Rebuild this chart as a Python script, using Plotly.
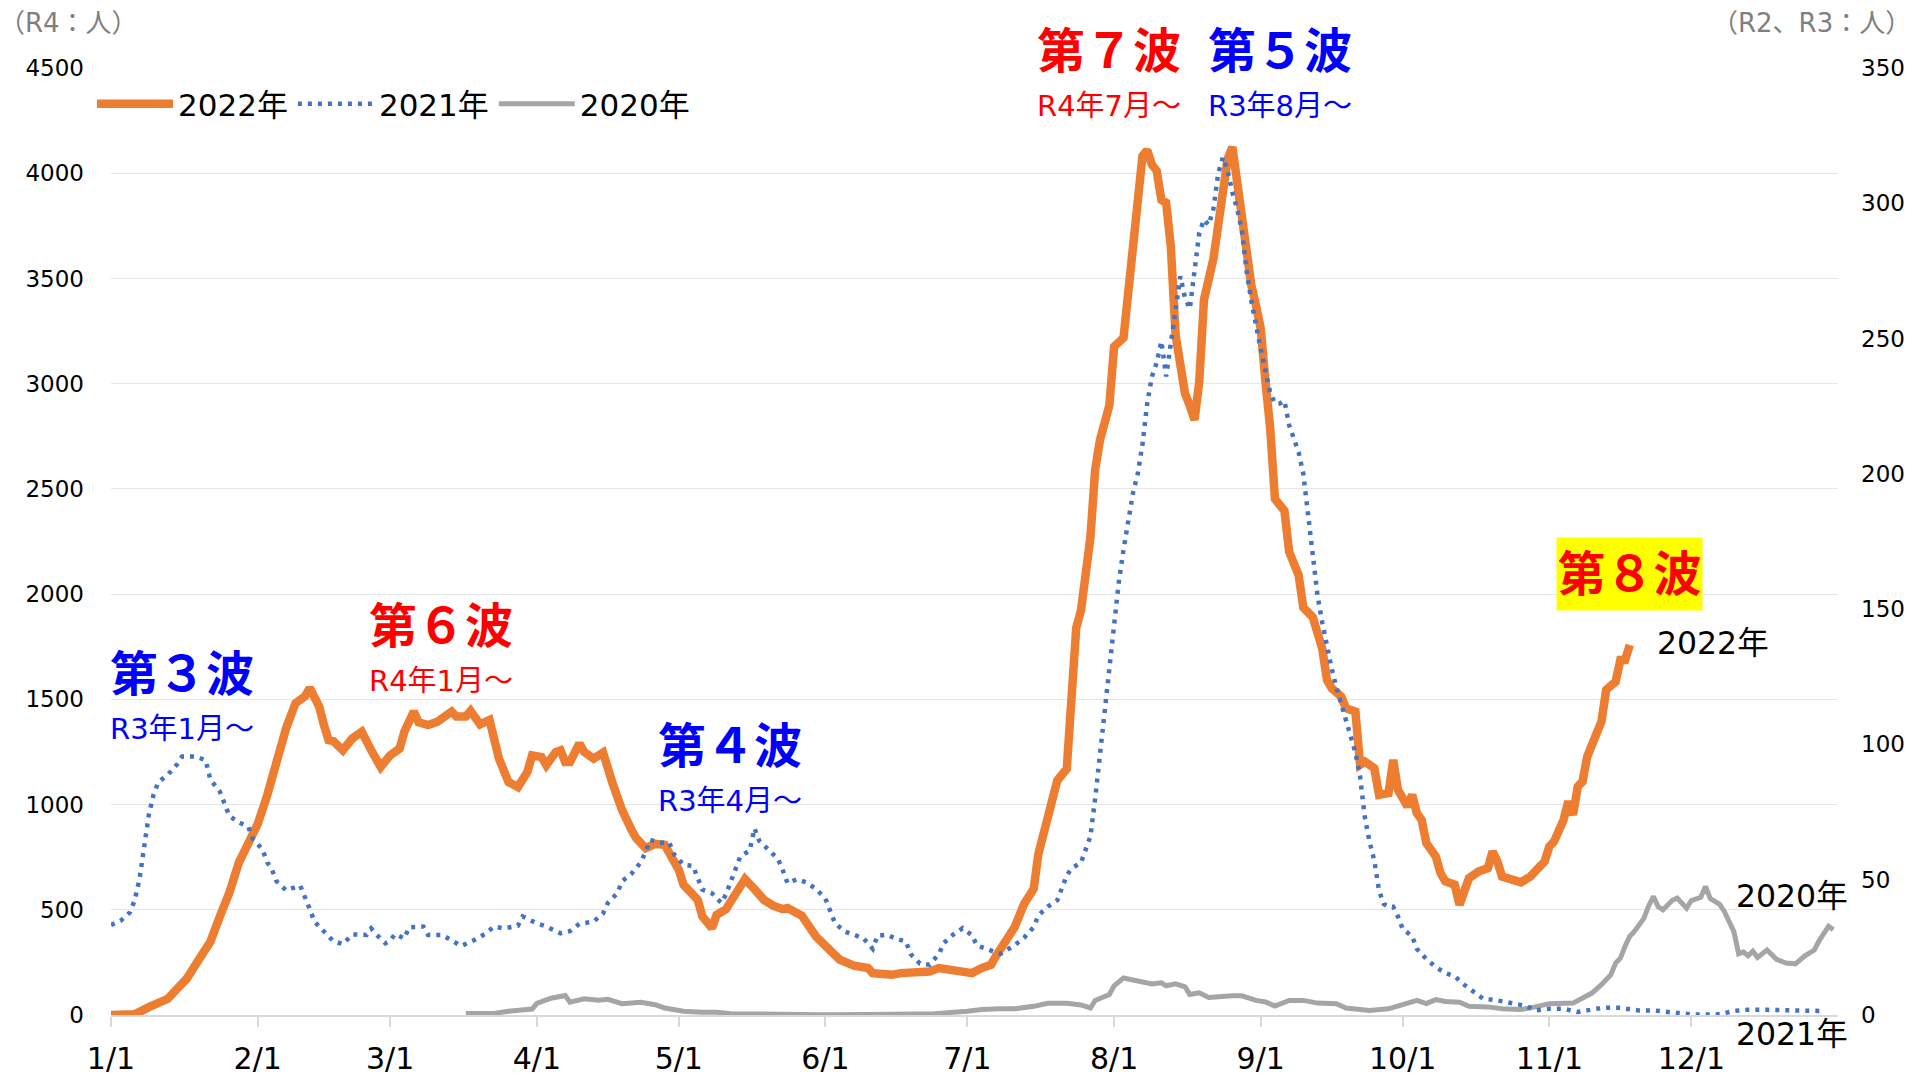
import plotly.graph_objects as go

# ---------------- data ----------------
month_ticks = [0, 31, 59, 90, 120, 151, 181, 212, 243, 273, 304, 334]
month_labels = ["1/1", "2/1", "3/1", "4/1", "5/1", "6/1", "7/1", "8/1", "9/1", "10/1", "11/1", "12/1"]

# 2022 (left axis), day of year index
days_2022 = [0, 5, 8, 10, 12, 14, 16, 18, 21, 23, 25, 27, 29, 31, 33, 35, 37, 39, 41, 42, 44, 45, 46, 47, 49, 51, 53, 55,
             57, 59, 61, 62, 64, 65, 67, 69, 72, 73, 75, 76, 78, 80, 82, 84, 85, 86, 88, 89, 91, 92, 94, 95, 96, 97, 99,
             100, 102, 104, 106, 108, 110, 111, 113, 115, 117, 119, 120, 121, 124, 125, 127, 128, 130, 131, 133, 134,
             136, 138, 140, 142, 143, 146, 149, 152, 154, 157, 160, 161, 165, 167, 170, 173, 175, 178, 182, 184, 186,
             187, 189, 191, 193, 195, 196, 198, 200, 202, 203, 204, 205, 207, 208, 209, 211, 212, 214, 215, 216, 217,
             218, 219, 220, 221, 222, 223, 224, 225, 226, 227, 228, 229, 230, 231, 233, 234, 235, 236, 237, 238, 239,
             240, 241, 242, 243, 244, 245, 246, 248, 249, 251, 252, 254, 256, 257, 258, 260, 261, 263, 264, 265, 267,
             268, 270, 271, 272, 273, 274, 275, 276, 277, 278, 280, 281, 282, 284, 285, 286, 287, 289, 291, 292, 293,
             294, 295, 297, 298, 300, 301, 303, 304, 305, 307, 308, 309, 310, 311, 312, 314, 315, 316, 318, 319, 320,
             321]
cases_2022 = [0, 3, 37, 53, 77, 125, 172, 244, 348, 468, 580, 723, 827, 907, 1043, 1210, 1362, 1482, 1514, 1554, 1466,
              1378, 1306, 1301, 1258, 1314, 1346, 1258, 1179, 1234, 1266, 1346, 1442, 1391, 1378, 1394, 1442, 1418, 1418,
              1445, 1381, 1402, 1218, 1107, 1099, 1083, 1155, 1234, 1226, 1187, 1250, 1258, 1202, 1202, 1290, 1250, 1218,
              1247, 1101, 975, 880, 840, 793, 813, 809, 737, 690, 619, 547, 468, 413, 476, 503, 540, 603, 646, 598, 547,
              519, 503, 508, 472, 373, 302, 263, 234, 223, 199, 191, 199, 203, 207, 223, 215, 199, 223, 239, 278, 350,
              418, 529, 599, 765, 925, 1114, 1170, 1477, 1839, 1922, 2270, 2591, 2730, 2897, 3176, 3218, 3427, 3691,
              3928, 4082, 4110, 4040, 4012, 3873, 3859, 3650, 3230, 3092, 2953, 2897, 2828, 3009, 3399, 3594, 3777,
              3902, 4068, 4124, 3957, 3805, 3680, 3469, 3371, 3260, 3009, 2786, 2452, 2396, 2201, 2090, 1936, 1890,
              1740, 1592, 1553, 1513, 1458, 1442, 1189, 1204, 1173, 1046, 1054, 1212, 1070, 1022, 991, 1046, 959, 927,
              817, 753, 674, 635, 619, 524, 595, 650, 682, 698, 777, 730, 658, 650, 643, 630, 658, 682, 730, 801, 825,
              927, 1015, 951, 1086, 1109, 1228, 1339, 1394, 1545, 1584, 1687, 1687, 1758]

# 2021 (right axis)
days_2021 = [0, 2, 4, 5, 6, 7, 8, 9, 10, 12, 14, 15, 18, 20, 21, 23, 24, 25, 27, 29, 30, 32, 33, 34, 35, 37, 40, 41, 42,
             43, 45, 47, 49, 51, 54, 55, 56, 58, 59, 60, 62, 63, 66, 67, 70, 72, 74, 77, 79, 81, 83, 86, 87, 90, 92, 95,
             97, 99, 102, 104, 105, 107, 108, 110, 112, 113, 114, 116, 118, 119, 121, 123, 124, 125, 127, 129, 130, 131,
             132, 133, 135, 136, 137, 139, 141, 142, 143, 145, 147, 149, 151, 152, 153, 155, 157, 159, 161, 162, 164,
             166, 168, 169, 171, 173, 175, 176, 178, 180, 182, 183, 186, 188, 191, 193, 195, 196, 198, 200, 202, 203,
             205, 206, 207, 208, 209, 210, 211, 212, 213, 214, 215, 216, 217, 218, 219, 220, 221, 222, 223, 224, 225,
             226, 227, 228, 229, 230, 231, 232, 233, 234, 235, 236, 237, 238, 239, 240, 241, 242, 243, 244, 245, 246,
             247, 248, 249, 250, 251, 252, 253, 254, 255, 256, 257, 258, 259, 260, 261, 262, 263, 264, 265, 266, 267,
             268, 269, 270, 271, 272, 273, 275, 276, 278, 280, 282, 284, 286, 288, 290, 293, 296, 299, 301, 304, 307,
             310, 312, 315, 318, 321, 323, 326, 329, 332, 334, 337, 340, 343, 346, 350, 354, 358, 362]
cases_2021 = [33.3, 34.8, 37.9, 42.4, 50, 62, 74, 81.5, 86.1, 88.8, 92.7, 95.5, 95.5, 94.1, 87, 82.6, 78, 73.6, 71.2,
              69.6, 65, 61.2, 56.5, 53.8, 49.4, 46.1, 47.8, 43.8, 39.2, 34.5, 31, 27.3, 26.2, 29.8, 29.6, 32, 29.9,
              26.5, 27.4, 29.9, 28.3, 32.4, 32.7, 29.6, 29.6, 27.4, 25.5, 27.9, 29.9, 32.7, 32, 33, 36.4, 33.9, 32.7,
              30.2, 31, 33.7, 34.5, 37.6, 41.4, 45, 49.4, 52.2, 56.5, 60.4, 64.7, 63.7, 63.7, 59.4, 55.5, 55.1, 50.8,
              46.3, 45, 41.4, 44.7, 49.6, 54, 58.6, 60.8, 69, 64.4, 61, 57.6, 53.4, 48.7, 50.2, 49, 46.6, 43, 38.5, 34,
              30.9, 29.7, 28.4, 24.4, 29.3, 29.7, 28.1, 27.2, 22.5, 19, 18.6, 22.6, 26.6, 29.7, 32.1, 29.4, 25.7, 23.8,
              22.6, 25.8, 28.6, 32.5, 36.8, 40.1, 42.4, 51.6, 54.2, 56.3, 60.7, 66, 80, 95, 110, 128, 144, 160, 172,
              183, 193, 200, 211, 226, 236, 241, 249, 236, 248, 262, 273, 265, 261, 275, 289, 294, 292, 298, 311, 317,
              312, 304, 298, 290, 275, 264, 254, 246, 238, 230, 226, 226, 227, 218, 213, 208, 200, 184, 168, 155, 145,
              136, 128, 121, 115, 110, 103, 97, 88, 73, 64, 57, 46, 41, 40, 40, 36.4, 31.8, 29.1, 24.4, 20.7, 17.7,
              15.5, 14.3, 11.2, 8.6, 6, 5.4, 4.4, 3.4, 1.7, 2.3, 2.3, 1.1, 1.7, 2.6, 2.8, 2.3, 1.7, 1.7, 1.1, 0.5, 0.2,
              0.2, 0.3, 1.5, 1.9, 1.9, 1.6, 1.6, 1.5]

# 2020 (right axis)
days_2020 = [75, 79, 81, 84, 87, 89, 90, 93, 96, 97, 100, 103, 105, 108, 112, 115, 117, 121, 125, 128, 131, 139, 150,
             160, 174, 181, 184, 188, 191, 195, 198, 202, 205, 207, 208, 211, 212, 214, 216, 218, 220, 222, 223, 225,
             227, 228, 230, 232, 234, 237, 239, 242, 244, 246, 249, 252, 255, 259, 261, 263, 266, 270, 272, 275, 276,
             278, 280, 282, 285, 287, 291, 294, 298, 301, 304, 309, 311, 313, 315, 317, 318, 319, 320, 321, 322, 324,
             325, 326, 327, 328, 330, 331, 333, 334, 336, 337, 338, 340, 341, 342, 343, 344, 345, 346, 347, 348, 350,
             352, 354, 356, 358, 360, 361, 363, 364]
cases_2020 = [0.6, 0.4, 0.6, 1.4, 1.9, 2.2, 4.3, 6.2, 7.2, 4.7, 6, 5.5, 5.8, 4.2, 4.7, 3.8, 2.6, 1.4, 1, 1, 0.5, 0.2,
              0.1, 0.2, 0.5, 1.4, 2, 2.3, 2.3, 3.2, 4.3, 4.3, 3.7, 2.6, 5.4, 7.6, 10.8, 13.7, 13, 12.6, 11.5, 11.9,
              10.8, 11.5, 10.4, 7.6, 8.2, 6.5, 6.9, 7.1, 7.1, 5.4, 4.8, 3.3, 5.4, 5.4, 4.4, 4.2, 2.6, 2.2, 1.7, 2.3,
              3.4, 5, 5.4, 4.2, 5.7, 5, 4.7, 3.2, 3, 2.3, 2, 3, 4.2, 4.4, 6.3, 8.1, 11.2, 14.9, 19.2, 21, 25.4, 29.1,
              31, 35.8, 40.4, 43.8, 40, 38.9, 42.4, 43.2, 39.5, 42.3, 43.5, 47.5, 43, 40.9, 38.2, 34.2, 30.8, 22.6,
              23.3, 21.9, 23.6, 21.3, 24, 20.6, 19.2, 18.9, 21.9, 24, 27.4, 32.8, 31.5]

FONT = "DejaVu Sans, Noto Sans CJK JP, sans-serif"

fig = go.Figure()

fig.add_trace(go.Scatter(x=days_2022, y=cases_2022, name="2022年", mode="lines",
                         line=dict(color="#ED7D31", width=8.5), yaxis="y", legendrank=1))
fig.add_trace(go.Scatter(x=days_2020, y=cases_2020, name="2020年", mode="lines",
                         line=dict(color="#A5A5A5", width=5), yaxis="y2", legendrank=3))
fig.add_trace(go.Scatter(x=days_2021, y=cases_2021, name="2021年", mode="lines",
                         line=dict(color="#4472C4", width=4.5, dash="4px,6px"), yaxis="y2", legendrank=2))

annos = []


def add_text(text, x, y, size, color, bold=False, xanchor="left", bg=None, pad=1, box=None):
    d = dict(text=("<b>%s</b>" % text) if bold else text, x=x, y=y, xref="paper", yref="paper",
             xanchor=xanchor, yanchor="middle", showarrow=False,
             font=dict(size=size, color=color, family=FONT), borderpad=pad)
    if bg:
        d["bgcolor"] = bg
    if box:
        d["width"], d["height"] = box
    annos.append(d)


BLUE = "#0000FF"
RED = "#FF0000"
add_text("第３波", -0.0015, 0.360, 48, BLUE, True)
add_text("R3年1月～", -0.0015, 0.302, 29, BLUE)
add_text("第６波", 0.1485, 0.411, 48, RED, True)
add_text("R4年1月～", 0.1485, 0.353, 29, RED)
add_text("第４波", 0.3158, 0.284, 48, BLUE, True)
add_text("R3年4月～", 0.3158, 0.226, 29, BLUE)
add_text("第７波", 0.5353, 1.018, 48, RED, True)
add_text("R4年7月～", 0.5353, 0.960, 29, RED)
add_text("第５波", 0.6343, 1.018, 48, BLUE, True)
add_text("R3年8月～", 0.6343, 0.960, 29, BLUE)
add_text("第８波", 0.8369, 0.4657, 48, RED, True, bg="#FFFF00", pad=2, box=(141, 68))
add_text("2022年", 0.8940, 0.3928, 31.5, "black")
add_text("2020年", 0.9397, 0.1257, 31.5, "black")
add_text("2021年", 0.9397, -0.0200, 31.5, "black")
add_text("（R4：人）", -0.0660, 1.0475, 26, "#7F7F7F")
add_text("（R2、R3：人）", 1.0434, 1.0475, 26, "#7F7F7F", xanchor="right")

fig.update_layout(
    width=1917, height=1076,
    margin=dict(l=111, r=79, t=68, b=61, autoexpand=False),
    paper_bgcolor="white", plot_bgcolor="white",
    font=dict(family=FONT, color="black"),
    showlegend=True,
    legend=dict(orientation="h", x=-0.011, y=0.962, xanchor="left", yanchor="middle",
                font=dict(size=31, color="black", family=FONT), itemwidth=76,
                bgcolor="rgba(0,0,0,0)", borderwidth=0),
    xaxis=dict(range=[0, 365], tickmode="array", tickvals=month_ticks, ticktext=month_labels,
               showgrid=False, zeroline=False, showline=True, linecolor="#D9D9D9", linewidth=2,
               ticks="outside", ticklen=10, tickwidth=2, tickcolor="#D9D9D9",
               tickfont=dict(size=30, color="black", family=FONT), ticklabelstandoff=6, automargin=False),
    yaxis=dict(range=[0, 4500], tick0=0, dtick=500, showgrid=True, gridcolor="#E6E6E6", gridwidth=1,
               zeroline=False, showline=False, ticks="",
               tickfont=dict(size=23, color="black", family=FONT), ticklabelstandoff=26, automargin=False),
    yaxis2=dict(range=[0, 350], tick0=0, dtick=50, overlaying="y", side="right", showgrid=False,
                zeroline=False, showline=False, ticks="",
                tickfont=dict(size=23, color="black", family=FONT), ticklabelstandoff=22, automargin=False),
    annotations=annos,
)

fig.write_html("out.html", config={"displayModeBar": False},
               post_script="document.body.style.margin='0';document.body.style.overflow='hidden';")
